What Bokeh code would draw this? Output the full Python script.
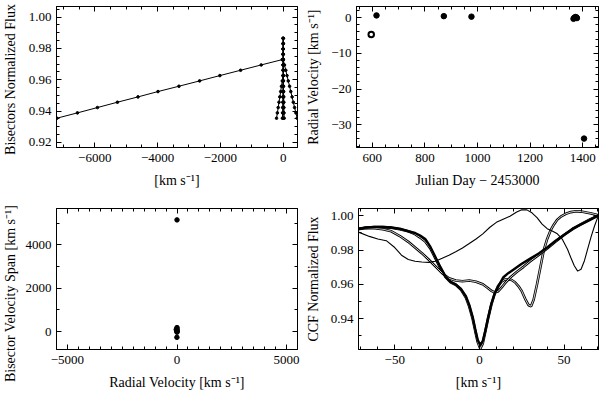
from bokeh.plotting import figure
from bokeh.layouts import column, row
from bokeh.models import Range1d, LinearAxis, FixedTicker, CustomJSTickFormatter, Label
from bokeh.embed import file_html
from bokeh.resources import INLINE

FONT = "Liberation Serif"
TICK_FS = "13px"
LABEL_FS = "14px"

# ---------------- Panel 1: bisectors ----------------
bis_levels = [0.9355, 0.9389, 0.9423, 0.9457, 0.9491, 0.9525, 0.9559, 0.9593,
              0.9627, 0.9661, 0.9695, 0.9729, 0.9763, 0.9797, 0.9831, 0.9865]
bis_a_vel = [-25, -20, -18, -15, -12, -10, -8, -5, -4, -2, 0, 2, 4, 5, 6, 8]
bis_b_vel = [30, 26, 22, 18, 15, 12, 10, 8, 6, 5, 4, 2, 0, -2, -3, -5]
bis_c_vel = [-5, 0, 5, 10, 8, 5, 2, 0, -2, -5, -8, -10, -12, -10, -8, -6]
bis_d_vel = [445, 405, 362, 322, 283, 241, 203, 160, 121, 82, 40, 2]
bis_e_vel = [-212, -186, -160, -134, -108, -80, -55, -28, -3]
bis_f_vel = [-7207, -6551, -5915, -5279, -4623, -3987, -3320, -2662, -2016, -1358, -700, -32]

# ---------------- Panel 2: radial velocity vs time ----------------
jd_filled = [616, 872, 977, 1365, 1368, 1372, 1376, 1378, 1405]
rv_filled = [0.65, 0.45, 0.30, -0.30, 0.00, 0.20, 0.10, -0.10, -33.9]
jd_open = [596]
rv_open = [-4.7]

# ---------------- Panel 3: bisector span vs RV ----------------
span_rv = [0.65, 0.45, 0.30, -0.30, 0.00, 0.20, 0.10, -4.7, -33.9]
span_bvs = [180, 120, 60, 30, 0, -30, 5150, -270, 90]

# ---------------- Panel 4: CCF profiles ----------------
ccf_main_x = [-71.4, -67, -62, -57, -52, -47, -42, -38, -35, -32, -29, -26, -23, -20,
              -17, -14, -11, -8, -6, -4, -2.5, -1, 0.5, 2, 3.5, 5, 7, 9, 11, 14, 17,
              20, 25, 30, 35, 40, 45, 50, 55, 60, 65, 70.3]
ccf_main_y = [0.9925, 0.9932, 0.9935, 0.9935, 0.9932, 0.9925, 0.9910, 0.9900, 0.9885,
              0.9865, 0.9820, 0.9760, 0.9700, 0.9645, 0.9615, 0.9600, 0.9575, 0.9530,
              0.9480, 0.9410, 0.9340, 0.9275, 0.9245, 0.9270, 0.9330, 0.9400, 0.9485,
              0.9545, 0.9585, 0.9640, 0.9665, 0.9685, 0.9720, 0.9750, 0.9780, 0.9815,
              0.9855, 0.9890, 0.9925, 0.9950, 0.9975, 1.0003]

ccf_dip_x = [-71.4, -67, -62, -57, -52, -47, -42, -38, -35, -32, -29, -26, -23, -20,
             -17, -14, -11, -8, -6, -4, -2.5, -1, 0.5, 2, 3.5, 5, 7, 9, 11, 13, 15,
             17, 19, 21, 23, 25, 27, 29, 30.5, 32, 34, 36, 38, 40, 42, 44, 46, 48,
             51, 54, 57, 60, 63, 66, 70.3]
ccf_dip_y = [0.9922, 0.9930, 0.9934, 0.9934, 0.9931, 0.9922, 0.9910, 0.9893, 0.9873,
             0.9850, 0.9810, 0.9752, 0.9693, 0.9642, 0.9612, 0.9597, 0.9570, 0.9522,
             0.9470, 0.9398, 0.9328, 0.9262, 0.9224, 0.9255, 0.9325, 0.9395, 0.9480,
             0.9545, 0.9590, 0.9615, 0.9628, 0.9630, 0.9625, 0.9612, 0.9590, 0.9560,
             0.9515, 0.9478, 0.9472, 0.9510, 0.9600, 0.9700, 0.9800, 0.9865, 0.9915,
             0.9950, 0.9978, 0.9995, 1.0012, 1.0022, 1.0027, 1.0025, 1.0020, 1.0014,
             1.0004]

ccf_shallow_x = [-71.4, -67, -62, -57, -52, -47, -42, -38, -34, -30, -26, -22, -18, -14,
                 -10, -6, -2, 2, 5, 7, 9, 11, 13, 15, 18, 22, 26, 30, 35, 40, 45, 50,
                 55, 60, 65, 70.3]
ccf_shallow_y = [0.9925, 0.9930, 0.9928, 0.9922, 0.9910, 0.9882, 0.9848, 0.9815, 0.9782,
                 0.9745, 0.9705, 0.9665, 0.9635, 0.9622, 0.9618, 0.9622, 0.9615, 0.9600,
                 0.9578, 0.9562, 0.9553, 0.9558, 0.9580, 0.9605, 0.9638, 0.9672, 0.9702,
                 0.9735, 0.9772, 0.9810, 0.9850, 0.9888, 0.9922, 0.9952, 0.9978, 1.0003]

ccf_thin_x = [-71.4, -65, -60, -55, -50, -46, -42, -38, -34, -30, -26, -22, -18, -14,
              -10, -6, -2, 2, 6, 10, 14, 18, 22, 25, 28, 31, 34, 37, 40, 43, 46, 49,
              52, 54, 56, 58, 60, 62, 64, 66, 68, 70.3]
ccf_thin_y = [0.9905, 0.9880, 0.9865, 0.9855, 0.9815, 0.9770, 0.9745, 0.9735, 0.9730,
              0.9728, 0.9735, 0.9752, 0.9770, 0.9790, 0.9812, 0.9838, 0.9865, 0.9895,
              0.9932, 0.9962, 0.9980, 0.9998, 1.0022, 1.0036, 1.0035, 1.0018, 0.9990,
              0.9952, 0.9925, 0.9912, 0.9895, 0.9862, 0.9805, 0.9755, 0.9708, 0.9677,
              0.9688, 0.9738, 0.9810, 0.9880, 0.9942, 1.0003]

# ---------------- tick labels ----------------
p1_xticks = [-6000, -4000, -2000, 0]
p1_yticks = [0.92, 0.94, 0.96, 0.98, 1.00]
p2_xticks = [600, 800, 1000, 1200, 1400]
p2_yticks = [-30, -20, -10, 0]
p3_xticks = [-5000, 0, 5000]
p3_yticks = [0, 2000, 4000]
p4_xticks = [-50, 0, 50]
p4_yticks = [0.94, 0.96, 0.98, 1.00]

p1_xminor = [v for v in range(-7000, 1, 500)]
p1_yminor = [round(0.92 + 0.005 * i, 3) for i in range(18)]
p2_xminor = [v for v in range(550, 1451, 50)]
p2_yminor = [v for v in range(-36, 3, 2)]
p3_xminor = [v for v in range(-5500, 5501, 500)]
p3_yminor = [1000, 3000, 5000]
p4_xminor = [v for v in range(-70, 71, 10)]
p4_yminor = [0.93, 0.95, 0.97, 0.99]

KMS = "[km s\u207b\u00b9]"
MINUS_FMT = "return (tick < 0 ? '\\u2212' : '') + Math.abs(tick).toFixed(%d);"

STRIP_W = 20
TOTAL_H = 395
TOP_H = 190
BOT_H = TOTAL_H - TOP_H
LEFT_W = 302 - STRIP_W
RIGHT_W = 599 - 302


def make_fig(w, h, xr, yr, bl, br, bt, bb):
    p = figure(width=w, height=h, x_range=Range1d(*xr), y_range=Range1d(*yr),
               output_backend="svg", toolbar_location=None,
               min_border_left=bl, min_border_right=br,
               min_border_top=bt, min_border_bottom=bb)
    p.xgrid.visible = False
    p.ygrid.visible = False
    p.outline_line_color = "black"
    p.outline_line_width = 1
    p.background_fill_color = "white"
    p.border_fill_color = "white"
    return p


def style(ax, ticks, minor, digits, label=None, show=True, standoff=5, lstandoff=7):
    ax.ticker = FixedTicker(ticks=ticks, minor_ticks=minor)
    ax.major_tick_in = 5
    ax.major_tick_out = 0
    ax.minor_tick_in = 3
    ax.minor_tick_out = 0
    ax.axis_line_color = "black"
    ax.major_tick_line_color = "black"
    ax.minor_tick_line_color = "black"
    if show:
        ax.formatter = CustomJSTickFormatter(code=MINUS_FMT % digits)
        ax.major_label_text_font = FONT
        ax.major_label_text_font_size = TICK_FS
        ax.major_label_text_color = "black"
        ax.major_label_standoff = standoff
    else:
        ax.formatter = CustomJSTickFormatter(code="return '';")
        ax.major_label_standoff = 0
        ax.major_label_text_font_size = "1px"
    if label:
        ax.axis_label = label
        ax.axis_label_text_font = FONT
        ax.axis_label_text_font_size = LABEL_FS
        ax.axis_label_text_font_style = "normal"
        ax.axis_label_text_color = "black"
        ax.axis_label_standoff = lstandoff


def decorate(p, xt, xm, xd, yt, ym, yd, xlabel, ylabel):
    style(p.xaxis[0], xt, xm, xd, xlabel, standoff=6, lstandoff=8)
    style(p.yaxis[0], yt, ym, yd, ylabel, standoff=5, lstandoff=7)
    top = LinearAxis()
    style(top, xt, xm, xd, show=False)
    p.add_layout(top, "above")
    right = LinearAxis()
    style(right, yt, ym, yd, show=False)
    p.add_layout(right, "right")


# ---- Panel 1 ----
p1 = make_fig(LEFT_W, TOP_H, (-7218, 455), (0.9168, 1.0068), 56 - STRIP_W, 5, 6, 42)
decorate(p1, p1_xticks, p1_xminor, 0, p1_yticks, p1_yminor, 2, KMS, None)
for vel, n in [(bis_f_vel, 12), (bis_d_vel, 12), (bis_e_vel, 9),
               (bis_a_vel, 16), (bis_b_vel, 16), (bis_c_vel, 16)]:
    p1.line(vel, bis_levels[:n], line_color="black", line_width=1)
    p1.scatter(vel, bis_levels[:n], size=2.6, color="black")

# ---- Panel 2 ----
p2 = make_fig(RIGHT_W, TOP_H, (540, 1460), (-36.4, 3.15), 54, 1, 6, 42)
decorate(p2, p2_xticks, p2_xminor, 0, p2_yticks, p2_yminor, 0,
         "Julian Day \u2212 2453000", "Radial Velocity " + KMS)
p2.scatter(jd_filled, rv_filled, size=5.5, color="black")
p2.scatter(jd_open, rv_open, size=5.5, fill_color="white", line_color="black", line_width=2)

# ---- Panel 3 ----
p3 = make_fig(LEFT_W, BOT_H, (-5500, 5500), (-830, 5675), 56 - STRIP_W, 5, 18, 46)
decorate(p3, p3_xticks, p3_xminor, 0, p3_yticks, p3_yminor, 0,
         "Radial Velocity " + KMS, None)
p3.scatter(span_rv, span_bvs, size=4.5, color="black")

# ---- Panel 4 ----
p4 = make_fig(RIGHT_W, BOT_H, (-71.4, 70.3), (0.9219, 1.0043), 54, 1, 17, 46)
decorate(p4, p4_xticks, p4_xminor, 0, p4_yticks, p4_yminor, 2, KMS,
         "CCF Normalized Flux")
for xs, ys in [(ccf_dip_x, ccf_dip_y), (ccf_shallow_x, ccf_shallow_y)]:
    p4.line(xs, ys, line_color="black", line_width=2.6)
    p4.line(xs, ys, line_color="white", line_width=0.8)
p4.line(ccf_main_x, ccf_main_y, line_color="black", line_width=2.4)
p4.line(ccf_thin_x, ccf_thin_y, line_color="black", line_width=1.1)

# ---- left strip holding the y-axis titles of the left-hand panels ----
strip = figure(width=STRIP_W, height=TOTAL_H, x_range=Range1d(0, STRIP_W),
               y_range=Range1d(0, TOTAL_H), output_backend="svg",
               toolbar_location=None, min_border=0,
               x_axis_location=None, y_axis_location=None)
strip.grid.visible = False
strip.outline_line_color = None
strip.background_fill_color = "white"
strip.border_fill_color = "white"
for ytxt, txt in [(TOTAL_H - 79, "Bisectors Normalized Flux"),
                  (TOTAL_H - 293, "Bisector Velocity Span " + KMS)]:
    strip.add_layout(Label(x=10, y=ytxt, text=txt, angle=90, angle_units="deg",
                           text_align="center", text_baseline="middle",
                           text_font=FONT, text_font_size=LABEL_FS,
                           text_color="black"))

layout = row(strip, column(row(p1, p2), row(p3, p4)))
open("out.html", "w").write(file_html(layout, INLINE))
